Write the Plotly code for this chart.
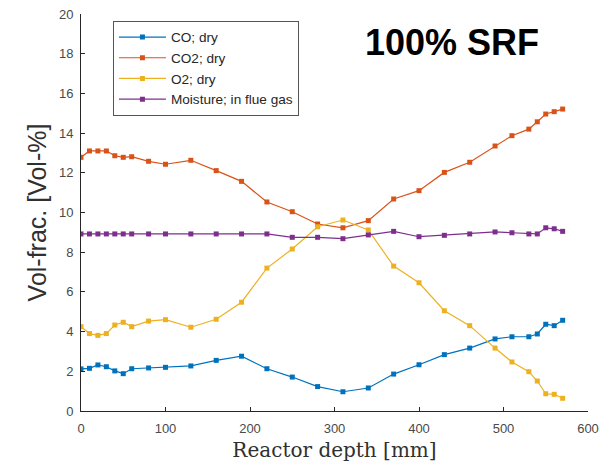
import plotly.graph_objects as go

depth = [0, 10, 20, 30, 40, 50, 60, 80, 100, 130, 160, 190, 220, 250, 280,
         310, 340, 370, 400, 430, 460, 490, 510, 530, 540, 550, 560, 570]

co = [2.12, 2.15, 2.32, 2.23, 2.02, 1.88, 2.13, 2.17, 2.20, 2.27, 2.55, 2.76, 2.13, 1.71, 1.23,
      0.97, 1.16, 1.86, 2.33, 2.84, 3.17, 3.63, 3.74, 3.74, 3.88, 4.37, 4.30, 4.57]

co2 = [12.78, 13.10, 13.10, 13.10, 12.86, 12.78, 12.81, 12.58, 12.43, 12.63, 12.11, 11.57, 10.53, 10.04, 9.42,
       9.23, 9.59, 10.68, 11.10, 12.02, 12.53, 13.35, 13.87, 14.20, 14.57, 14.96, 15.08, 15.21]

o2 = [4.25, 3.90, 3.81, 3.90, 4.33, 4.47, 4.25, 4.53, 4.60, 4.22, 4.62, 5.48, 7.20, 8.16, 9.28,
      9.62, 9.12, 7.30, 6.46, 5.05, 4.30, 3.17, 2.47, 1.98, 1.51, 0.87, 0.84, 0.64]

moisture = [8.92, 8.92, 8.92, 8.92, 8.92, 8.92, 8.92, 8.92, 8.92, 8.92, 8.92, 8.92, 8.92, 8.75, 8.75,
            8.68, 8.87, 9.05, 8.78, 8.85, 8.92, 9.02, 8.98, 8.92, 8.92, 9.23, 9.18, 9.05]

series_names = ["CO; dry", "CO2; dry", "O2; dry", "Moisture; in flue gas"]
series_values = [co, co2, o2, moisture]
colors = ["#0072BD", "#D95319", "#EDB120", "#7E2F8E"]

x_ticks = [0, 100, 200, 300, 400, 500, 600]
y_ticks = [0, 2, 4, 6, 8, 10, 12, 14, 16, 18, 20]

fig = go.Figure()
for name, vals, col in zip(series_names, series_values, colors):
    fig.add_trace(go.Scatter(
        x=depth, y=vals, name=name, mode="lines+markers",
        line=dict(color=col, width=1.2),
        marker=dict(symbol="square", size=5, color=col),
    ))

axis_col = "#262626"
fig.update_layout(
    width=603, height=466,
    margin=dict(l=81, r=15, t=14, b=55, autoexpand=False),
    paper_bgcolor="white", plot_bgcolor="white",
    font=dict(family="Liberation Sans, Arial, sans-serif", color=axis_col),
    showlegend=True,
    legend=dict(
        x=0.063, y=0.983, xanchor="left", yanchor="top",
        bgcolor="white", bordercolor="#555555", borderwidth=1,
        font=dict(size=13.6, color="#262626"),
        itemwidth=47, tracegroupgap=0,
    ),
    xaxis=dict(
        range=[0, 600], tickvals=x_ticks, ticks="inside", ticklen=4,
        tickcolor=axis_col, showline=True, linecolor=axis_col, linewidth=1,
        showgrid=False, zeroline=False, mirror=False, automargin=False,
        tickfont=dict(size=13, color="#4a4a4a"), ticklabelstandoff=5,
        title=dict(text="Reactor depth [mm]",
                   font=dict(family="DejaVu Serif, serif", size=20, color="#303030"),
                   standoff=8),
    ),
    yaxis=dict(
        range=[0, 20], tickvals=y_ticks, ticks="inside", ticklen=4,
        tickcolor=axis_col, showline=True, linecolor=axis_col, linewidth=1,
        showgrid=False, zeroline=False, mirror=False, automargin=False,
        tickfont=dict(size=13, color="#4a4a4a"), ticklabelstandoff=4,
        title=dict(text="Vol-frac. [Vol-%]",
                   font=dict(size=25, color="#303030"),
                   standoff=5),
    ),
    annotations=[dict(
        text="<b>100% SRF</b>", xref="paper", yref="paper",
        x=0.7318, y=0.929, xanchor="center", yanchor="middle",
        showarrow=False, font=dict(size=36, color="black",
                                   family="Liberation Sans, Arial, sans-serif"),
    )],
)

fig.write_html("out.html")
